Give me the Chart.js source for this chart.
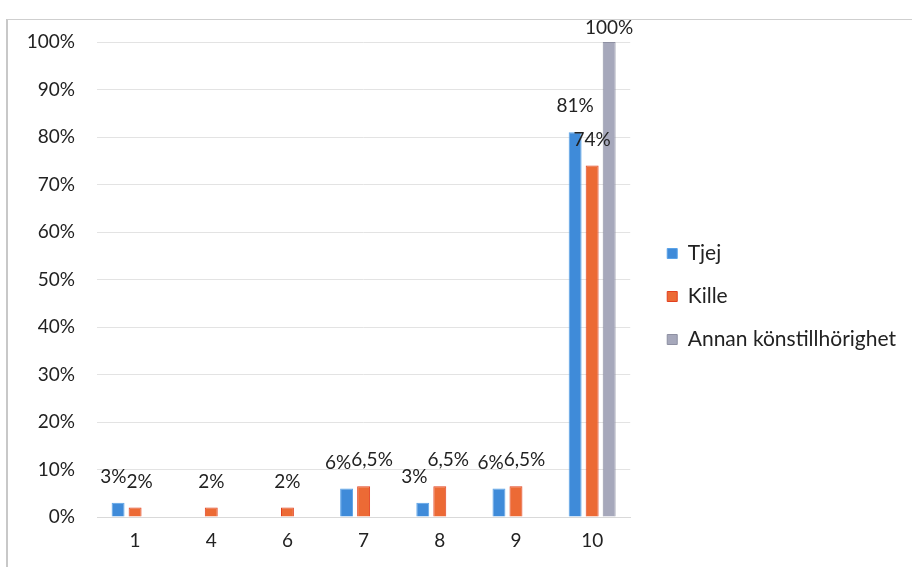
<!DOCTYPE html>
<html>
<head>
<meta charset="utf-8">
<script src="https://cdn.jsdelivr.net/npm/chart.js@4"></script>
<style>
  html, body { margin: 0; padding: 0; background: #fff; }
  #wrap { position: relative; width: 912px; height: 567px; overflow: hidden; }
  #frame { position: absolute; left: 6px; top: 19px; width: 920px; height: 560px;
           border-top: 1px solid #cfcfcf; border-left: 2px solid #c8c8c8; box-sizing: border-box; }
  canvas { position: absolute; left: 0; top: 0; }
</style>
</head>
<body>
<div id="wrap">
  <div id="frame"></div>
  <canvas id="c" width="912" height="567"></canvas>
</div>
<script>
// ---- data ----
const categories = ['1', '4', '6', '7', '8', '9', '10'];
const tjej   = [3, null, null, 6, 3, 6, 81];
const kille  = [2, 2, 2, 6.5, 6.5, 6.5, 74];
const annan  = [null, null, null, null, null, null, 100];
const seriesNames = ['Tjej', 'Kille', 'Annan könstillhörighet'];

const FONT = 'Lato, "Open Sans", sans-serif';
const FS = 19;

const fmt = v => String(v).replace('.', ',') + '%';

const labelPlugin = {
  id: 'barLabels',
  afterDatasetsDraw(chart) {
    const ctx = chart.ctx;
    ctx.save();
    ctx.font = FS + 'px ' + FONT;
    ctx.fillStyle = '#222';
    ctx.textAlign = 'center';
    ctx.textBaseline = 'middle';
    const n = chart.data.labels.length;
    for (let i = 0; i < n; i++) {
      const items = [];
      chart.data.datasets.forEach((ds, di) => {
        const v = ds.data[i];
        if (v === null || v === undefined) return;
        const el = chart.getDatasetMeta(di).data[i];
        const txt = fmt(v);
        const w = ctx.measureText(txt).width;
        const y = Math.max(el.y - 26, chart.chartArea.top - 14);
        items.push({ x: el.x, y, w, txt });
      });
      for (let k = 1; k < items.length; k++) {
        const a = items[k - 1], b = items[k];
        if (Math.abs(a.y - b.y) < FS) {
          const overlap = (a.x + a.w / 2) - (b.x - b.w / 2);
          if (overlap > 0) { a.x -= overlap / 2; b.x += overlap / 2; }
        }
      }
      items.forEach(it => ctx.fillText(it.txt, it.x, it.y));
    }
    ctx.restore();
  }
};

new Chart(document.getElementById('c'), {
  type: 'bar',
  data: {
    labels: categories,
    datasets: [
      { label: seriesNames[0], data: tjej,  backgroundColor: '#3f8bd9', borderColor: '#5aa3e8', borderWidth: 1 },
      { label: seriesNames[1], data: kille, backgroundColor: '#ec6a35', borderColor: '#e2401f', borderWidth: 1 },
      { label: seriesNames[2], data: annan, backgroundColor: '#a6a8bb', borderColor: '#8e90a2', borderWidth: 1 }
    ]
  },
  options: {
    responsive: false,
    animation: false,
    devicePixelRatio: 1,
    categoryPercentage: 0.67,
    barPercentage: 0.76,
    layout: { padding: { left: 26, top: 42, bottom: 16, right: 6 } },
    plugins: {
      legend: {
        position: 'right',
        maxWidth: 340,
        labels: {
          boxWidth: 10, boxHeight: 10, padding: 22,
          color: '#222',
          font: { family: FONT, size: 21 }
        }
      },
      tooltip: { enabled: false }
    },
    scales: {
      x: {
        grid: { display: false, drawTicks: false },
        border: { display: true, color: '#d9d9d9' },
        ticks: { color: '#222', padding: 12, font: { family: FONT, size: FS } },
        afterFit: s => { s.height = 34; }
      },
      y: {
        min: 0, max: 100,
        ticks: { stepSize: 10, color: '#222', padding: 22, font: { family: FONT, size: FS },
                 callback: v => v + '%' },
        grid: { color: '#e3e3e3', drawTicks: false },
        border: { display: false },
        afterFit: s => { s.width = 71; }
      },
      gap: {
        type: 'linear', position: 'right', display: true,
        grid: { display: false, drawTicks: false },
        ticks: { display: false },
        border: { display: false },
        afterFit: s => { s.width = 15; }
      }
    }
  },
  plugins: [labelPlugin]
});
</script>
</body>
</html>
